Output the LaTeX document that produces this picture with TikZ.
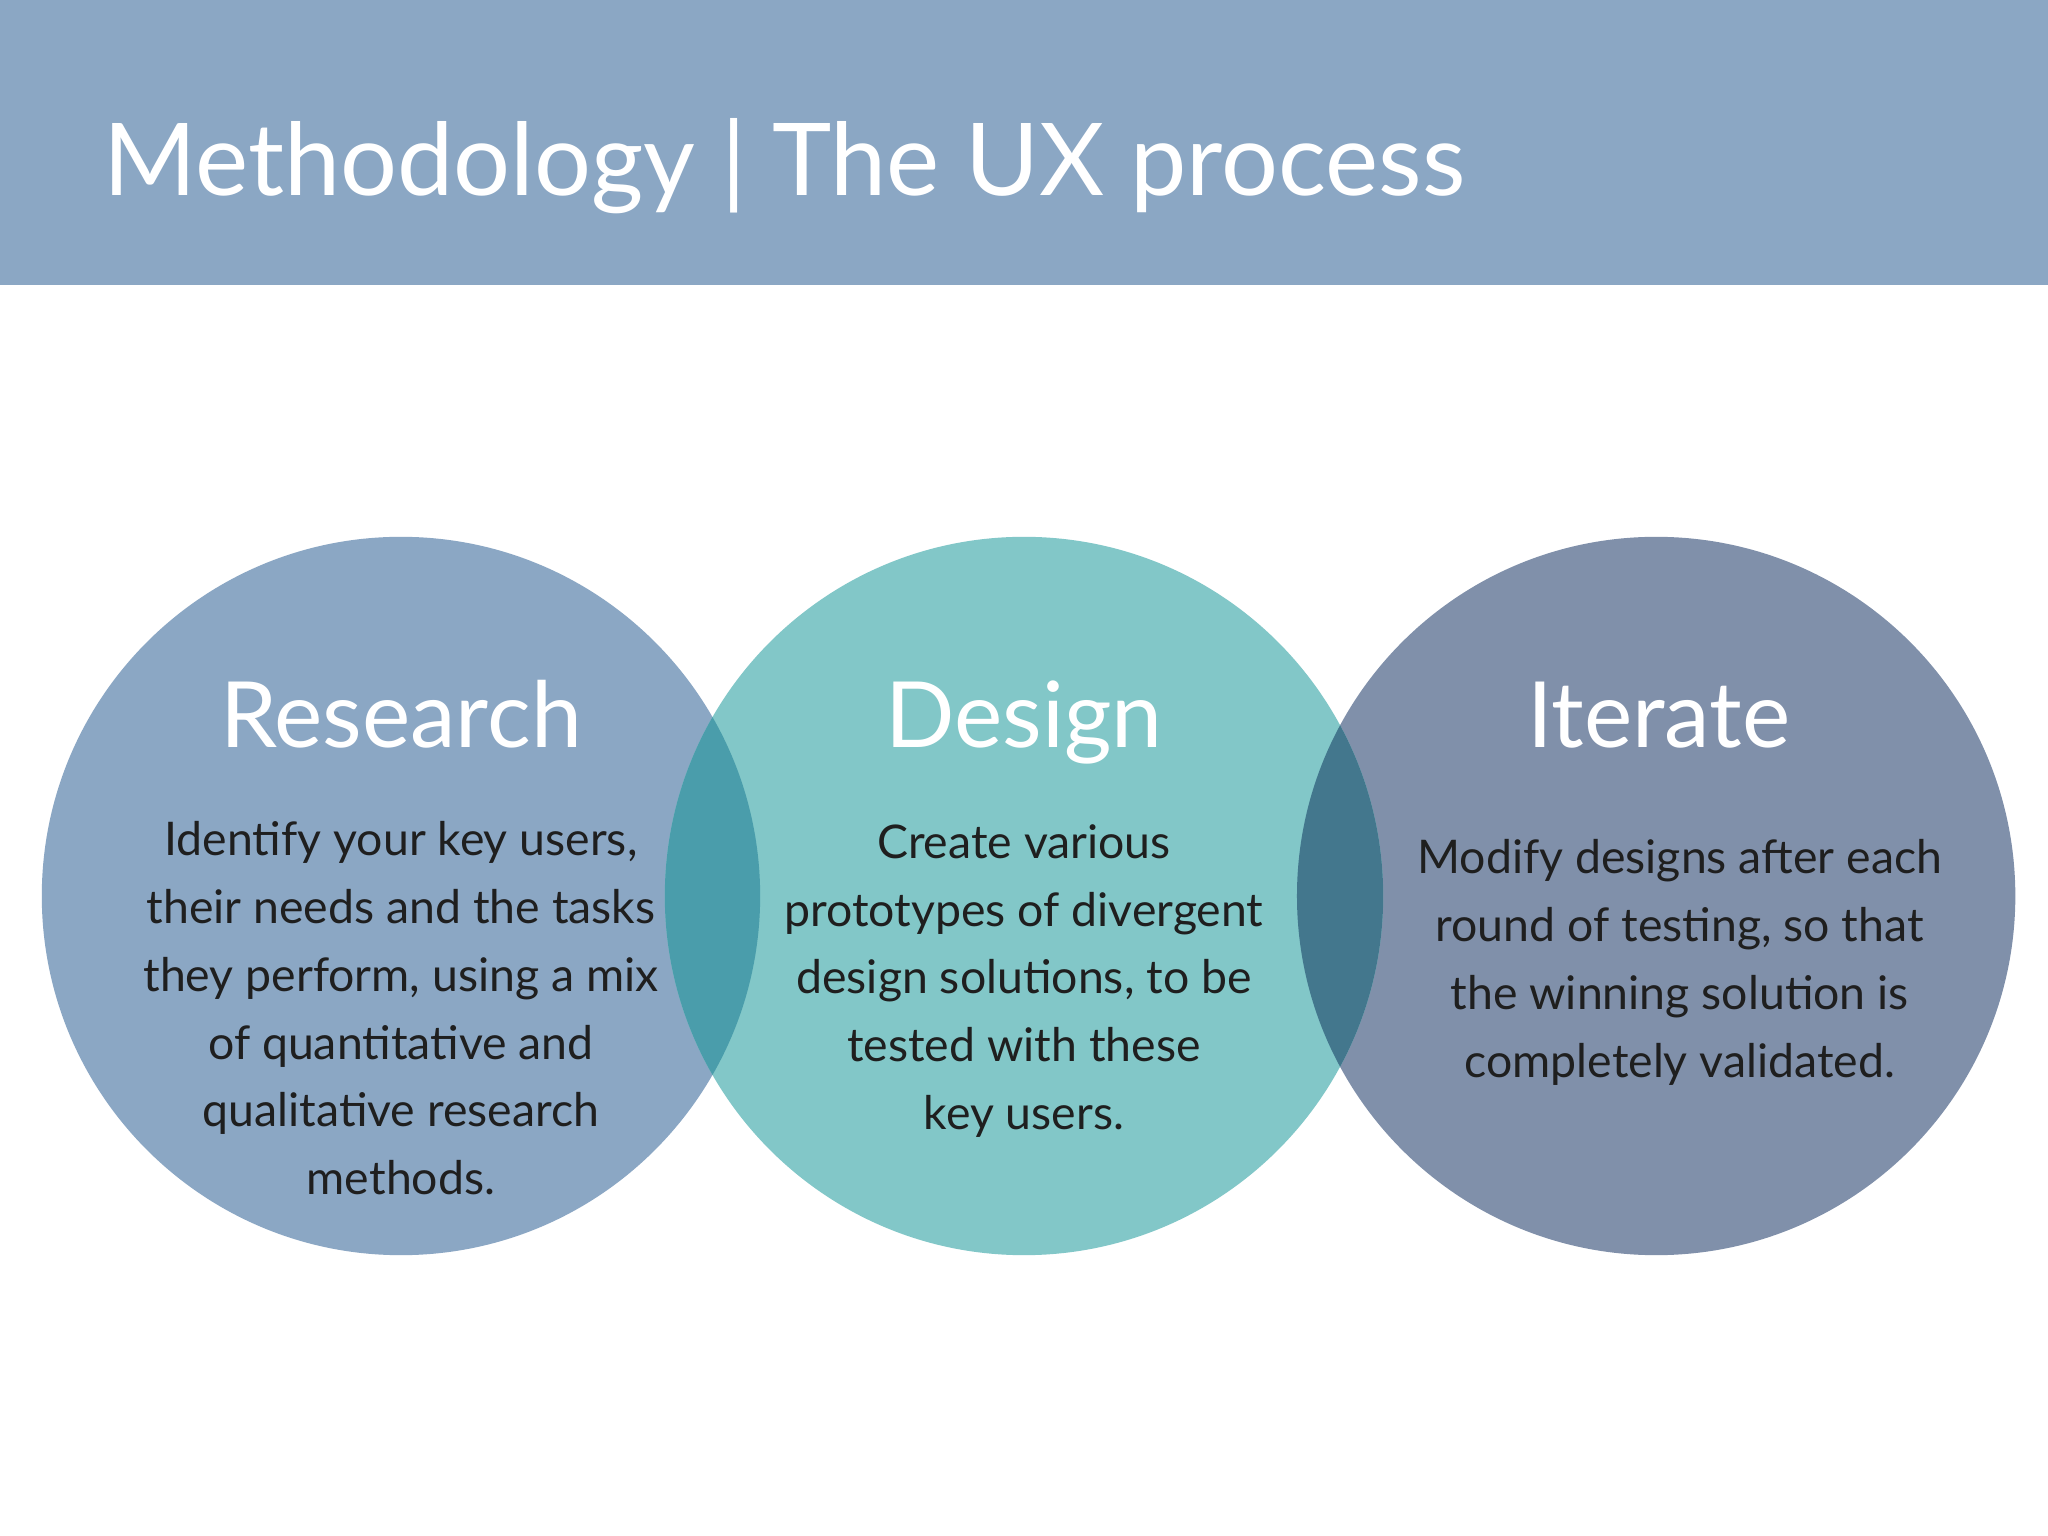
\documentclass[tikz,border=0pt]{standalone}
\usepackage{fontspec}
\setmainfont{Lato}
\begin{document}
\begin{tikzpicture}[x=0.013061cm,y=-0.013061cm,
  head/.style={text=white,font=\fontsize{26}{30}\selectfont},
  body/.style={text=black!88,align=center,font=\fontsize{13.2}{19.3}\selectfont}]
\definecolor{hdr}{RGB}{139,167,196}
\definecolor{colL}{RGB}{139,167,196}
\definecolor{colM}{RGB}{130,199,200}
\definecolor{colR}{RGB}{128,144,170}
\definecolor{ovLM}{RGB}{74,157,171}
\definecolor{ovMR}{RGB}{67,119,141}
\useasboundingbox (0,0) rectangle (1568,1176);
\fill[white] (0,0) rectangle (1568,1176);
\fill[hdr] (0,0) rectangle (1568,218);
\node[anchor=base west,text=white,font=\fontsize{28.6}{32}\selectfont] (title) at (70,150) {Methodology | The UX process};
\fill[colL] (307,686) circle (275);
\fill[colR] (1268,686) circle (275);
\fill[colM] (784,686) circle (275);
\begin{scope}\clip (307,686) circle (275); \fill[ovLM] (784,686) circle (275);\end{scope}
\begin{scope}\clip (1268,686) circle (275); \fill[ovMR] (784,686) circle (275);\end{scope}
\node[head,anchor=base] (h1) at (307,572) {Research};
\node[head,anchor=base] (h2) at (784,572) {Design};
\node[head,anchor=base] (h3) at (1270,572) {Iterate};
\node[body] (b1) at (307,772) {Identify your key users,\\their needs and the tasks\\they perform, using a mix\\of quantitative and\\qualitative research\\methods.};
\node[body] (b2) at (784,751) {Create various\\prototypes of divergent\\design solutions, to be\\tested with these\\key users.};
\node[body] (b3) at (1286,737) {Modify designs after each\\round of testing, so that\\the winning solution is\\completely validated.};
\end{tikzpicture}
\end{document}
